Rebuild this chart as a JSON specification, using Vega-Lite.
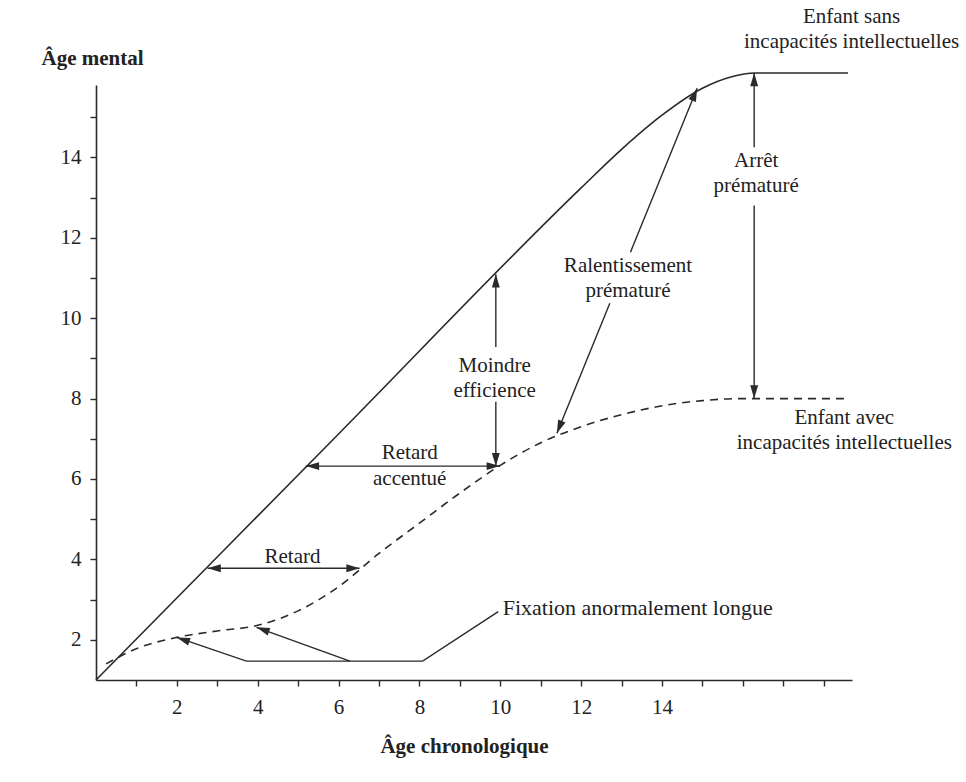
{
  "$schema": "https://vega.github.io/schema/vega-lite/v6.json",
  "width": 756,
  "height": 595,
  "autosize": {"type": "none"},
  "padding": {"left": 96, "top": 85, "right": 114, "bottom": 102},
  "background": "white",
  "config": {
    "view": {"stroke": null},
    "font": "Liberation Serif",
    "axis": {
      "grid": false,
      "domainColor": "#2a2a2a",
      "domainWidth": 1.6,
      "tickColor": "#2a2a2a",
      "tickWidth": 1.4,
      "tickSize": 6,
      "labelFont": "Liberation Serif",
      "labelFontSize": 21,
      "labelColor": "#222",
      "labelPadding": 8,
      "titleFont": "Liberation Serif",
      "titleFontSize": 21,
      "titleFontWeight": "bold",
      "titleColor": "#222"
    },
    "point": {"shape": "M0,0L-0.3,1L0.3,1Z", "filled": true, "color": "#2a2a2a", "opacity": 1, "size": 700, "strokeWidth": 0}
  },
  "datasets": {
    "normal": [
      {"x": 0, "y": 1},
      {"x": 6, "y": 7.12},
      {"x": 12, "y": 13.24},
      {"x": 13, "y": 14.2},
      {"x": 14, "y": 15.05},
      {"x": 15, "y": 15.72},
      {"x": 15.7, "y": 16.0},
      {"x": 16.3, "y": 16.1},
      {"x": 18.6, "y": 16.1}
    ],
    "deficient": [
      {"x": 0.25, "y": 1.4},
      {"x": 1, "y": 1.78},
      {"x": 2, "y": 2.06},
      {"x": 3, "y": 2.22},
      {"x": 4, "y": 2.36},
      {"x": 5, "y": 2.72},
      {"x": 6, "y": 3.32},
      {"x": 7, "y": 4.15},
      {"x": 8, "y": 4.9},
      {"x": 9, "y": 5.65},
      {"x": 10, "y": 6.34},
      {"x": 11, "y": 6.9},
      {"x": 12, "y": 7.3},
      {"x": 13, "y": 7.6},
      {"x": 14, "y": 7.82},
      {"x": 15, "y": 7.95},
      {"x": 16, "y": 8.0},
      {"x": 18.5, "y": 8.0}
    ],
    "shafts": [
      {"seg": "retard", "o": 1, "x": 2.76, "y": 3.78},
      {"seg": "retard", "o": 2, "x": 6.52, "y": 3.78},
      {"seg": "accentue", "o": 1, "x": 5.19, "y": 6.32},
      {"seg": "accentue", "o": 2, "x": 9.99, "y": 6.32},
      {"seg": "moindre_a", "o": 1, "x": 9.89, "y": 11.09},
      {"seg": "moindre_a", "o": 2, "x": 9.89, "y": 9.28},
      {"seg": "moindre_b", "o": 1, "x": 9.89, "y": 7.92},
      {"seg": "moindre_b", "o": 2, "x": 9.89, "y": 6.32},
      {"seg": "ralent_a", "o": 1, "x": 14.87, "y": 15.72},
      {"seg": "ralent_a", "o": 2, "x": 13.22, "y": 11.64},
      {"seg": "ralent_b", "o": 1, "x": 12.71, "y": 10.37},
      {"seg": "ralent_b", "o": 2, "x": 11.4, "y": 7.14},
      {"seg": "arret_a", "o": 1, "x": 16.28, "y": 16.1},
      {"seg": "arret_a", "o": 2, "x": 16.28, "y": 14.25},
      {"seg": "arret_b", "o": 1, "x": 16.28, "y": 12.8},
      {"seg": "arret_b", "o": 2, "x": 16.28, "y": 8.0},
      {"seg": "fix_a", "o": 1, "x": 9.95, "y": 2.7},
      {"seg": "fix_a", "o": 2, "x": 8.08, "y": 1.47},
      {"seg": "fix_a", "o": 3, "x": 3.72, "y": 1.47},
      {"seg": "fix_a", "o": 4, "x": 2.0, "y": 2.06},
      {"seg": "fix_b", "o": 1, "x": 6.28, "y": 1.47},
      {"seg": "fix_b", "o": 2, "x": 3.97, "y": 2.31}
    ],
    "heads": [
      {"x": 2.76, "y": 3.78, "dir": "left"},
      {"x": 6.52, "y": 3.78, "dir": "right"},
      {"x": 5.19, "y": 6.32, "dir": "left"},
      {"x": 9.99, "y": 6.32, "dir": "right"},
      {"x": 9.89, "y": 11.09, "dir": "up"},
      {"x": 9.89, "y": 6.32, "dir": "down"},
      {"x": 14.87, "y": 15.72, "dir": "upright"},
      {"x": 11.4, "y": 7.14, "dir": "downleft"},
      {"x": 16.28, "y": 16.1, "dir": "up"},
      {"x": 16.28, "y": 8.0, "dir": "down"},
      {"x": 2.0, "y": 2.06, "dir": "upleft"},
      {"x": 3.97, "y": 2.31, "dir": "upleft"}
    ],
    "labels": [
      {"t": "Enfant sans", "x": 18.69, "y": 17.33},
      {"t": "incapacités intellectuelles", "x": 18.69, "y": 16.72},
      {"t": "Arrêt", "x": 16.33, "y": 13.75},
      {"t": "prématuré", "x": 16.33, "y": 13.13},
      {"t": "Ralentissement", "x": 13.16, "y": 11.14},
      {"t": "prématuré", "x": 13.16, "y": 10.52},
      {"t": "Moindre", "x": 9.86, "y": 8.66},
      {"t": "efficience", "x": 9.86, "y": 8.03},
      {"t": "Enfant avec", "x": 18.51, "y": 7.36},
      {"t": "incapacités intellectuelles", "x": 18.51, "y": 6.74},
      {"t": "Retard", "x": 7.76, "y": 6.49},
      {"t": "accentué", "x": 7.76, "y": 5.85},
      {"t": "Retard", "x": 4.86, "y": 3.91}
    ],
    "leftlabels": [
      {"t": "Fixation anormalement longue", "x": 10.06, "y": 2.61}
    ]
  },
  "encoding": {
    "x": {
      "field": "x",
      "type": "quantitative",
      "scale": {"domain": [0, 18.7], "nice": false, "zero": false},
      "axis": {
        "title": "Âge chronologique",
        "values": [1, 2, 3, 4, 5, 6, 7, 8, 9, 10, 11, 12, 13, 14, 15, 16, 17, 18],
        "labelExpr": "datum.value % 2 == 0 && datum.value <= 14 ? datum.label : ''",
        "labelPadding": 10,
        "titleX": 368,
        "titleY": 72,
        "titleAlign": "center",
        "titleBaseline": "alphabetic"
      }
    },
    "y": {
      "field": "y",
      "type": "quantitative",
      "scale": {"domain": [1, 15.8], "nice": false, "zero": false},
      "axis": {
        "title": "Âge mental",
        "values": [2, 3, 4, 5, 6, 7, 8, 9, 10, 11, 12, 13, 14, 15],
        "labelExpr": "datum.value % 2 == 0 ? datum.label : ''",
        "labelPadding": 9,
        "titleAngle": 0,
        "titleX": -4,
        "titleY": -21,
        "titleAlign": "center",
        "titleBaseline": "alphabetic"
      }
    }
  },
  "layer": [
    {
      "data": {"name": "normal"},
      "mark": {"type": "line", "interpolate": "monotone", "color": "#2a2a2a", "strokeWidth": 1.6}
    },
    {
      "data": {"name": "deficient"},
      "mark": {"type": "line", "interpolate": "monotone", "color": "#2a2a2a", "strokeWidth": 1.6, "strokeDash": [8, 6]}
    },
    {
      "data": {"name": "shafts"},
      "mark": {"type": "line", "color": "#2a2a2a", "strokeWidth": 1.4},
      "encoding": {
        "detail": {"field": "seg", "type": "nominal"},
        "order": {"field": "o", "type": "quantitative"}
      }
    },
    {"data": {"name": "heads"}, "transform": [{"filter": "datum.dir == 'up'"}], "mark": {"type": "point", "angle": 0}},
    {"data": {"name": "heads"}, "transform": [{"filter": "datum.dir == 'right'"}], "mark": {"type": "point", "angle": 90}},
    {"data": {"name": "heads"}, "transform": [{"filter": "datum.dir == 'down'"}], "mark": {"type": "point", "angle": 180}},
    {"data": {"name": "heads"}, "transform": [{"filter": "datum.dir == 'left'"}], "mark": {"type": "point", "angle": 270}},
    {"data": {"name": "heads"}, "transform": [{"filter": "datum.dir == 'upright'"}], "mark": {"type": "point", "angle": 22}},
    {"data": {"name": "heads"}, "transform": [{"filter": "datum.dir == 'downleft'"}], "mark": {"type": "point", "angle": 202}},
    {"data": {"name": "heads"}, "transform": [{"filter": "datum.dir == 'upleft'"}], "mark": {"type": "point", "angle": 289}},
    {
      "data": {"name": "labels"},
      "mark": {"type": "text", "font": "Liberation Serif", "fontSize": 21, "color": "#222", "align": "center", "baseline": "alphabetic"},
      "encoding": {"text": {"field": "t", "type": "nominal"}}
    },
    {
      "data": {"name": "leftlabels"},
      "mark": {"type": "text", "font": "Liberation Serif", "fontSize": 22, "color": "#222", "align": "left", "baseline": "alphabetic"},
      "encoding": {"text": {"field": "t", "type": "nominal"}}
    }
  ]
}
